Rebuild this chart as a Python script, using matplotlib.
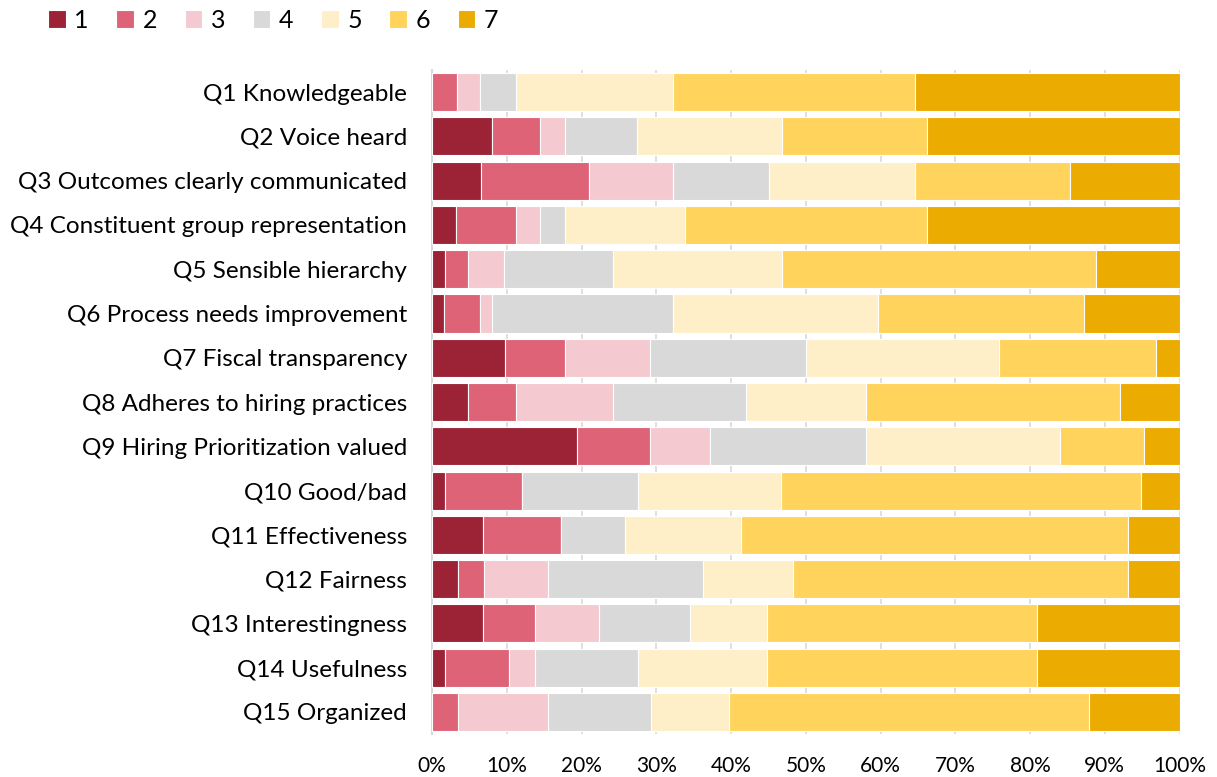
import matplotlib
matplotlib.use("Agg")
import matplotlib.pyplot as plt
import numpy as np

plt.rcParams['font.family'] = ['Lato', 'DejaVu Sans']

questions = [
    "Q1 Knowledgeable",
    "Q2 Voice heard",
    "Q3 Outcomes clearly communicated",
    "Q4 Constituent group representation",
    "Q5 Sensible hierarchy",
    "Q6 Process needs improvement",
    "Q7 Fiscal transparency",
    "Q8 Adheres to hiring practices",
    "Q9 Hiring Prioritization valued",
    "Q10 Good/bad",
    "Q11 Effectiveness",
    "Q12 Fairness",
    "Q13 Interestingness",
    "Q14 Usefulness",
    "Q15 Organized",
]

ratings = ["1", "2", "3", "4", "5", "6", "7"]

# percent of responses per rating, one list per rating (Q1..Q15)
r1 = [0.0, 8.0, 6.6, 3.2, 1.7, 1.6, 9.8, 4.8, 19.4, 1.7, 6.8, 3.5, 6.8, 1.7, 0.0]
r2 = [3.3, 6.4, 14.4, 8.0, 3.1, 4.8, 8.0, 6.4, 9.7, 10.3, 10.4, 3.4, 7.0, 8.6, 3.5]
r3 = [3.1, 3.4, 11.2, 3.2, 4.8, 1.6, 11.3, 13.0, 8.1, 0.0, 0.0, 8.6, 8.6, 3.5, 12.0]
r4 = [4.8, 9.6, 12.9, 3.4, 14.6, 24.2, 20.9, 17.8, 20.8, 15.5, 8.6, 20.7, 12.1, 13.8, 13.8]
r5 = [21.0, 19.4, 19.5, 16.0, 22.6, 27.5, 25.8, 16.0, 26.0, 19.2, 15.6, 12.1, 10.3, 17.2, 10.4]
r6 = [32.4, 19.4, 20.8, 32.4, 42.0, 27.5, 21.0, 34.0, 11.2, 48.1, 51.7, 44.8, 36.2, 36.2, 48.2]
r7 = [35.4, 33.8, 14.6, 33.8, 11.2, 12.8, 3.2, 8.0, 4.8, 5.2, 6.9, 6.9, 19.0, 19.0, 12.1]

colors = ["#9B2335", "#DE6377", "#F4CAD0", "#D9D9D9", "#FFEFC8", "#FFD35C", "#EBAB00"]

data = np.array([r1, r2, r3, r4, r5, r6, r7])
data = data / data.sum(axis=0) * 100

fig = plt.figure(figsize=(12.17, 7.77), dpi=100)
ax = fig.add_axes([0.355, 0.0553, 0.6142, 0.8546])

y = np.arange(len(questions))
left = np.zeros(len(questions))
for i in range(len(ratings)):
    ax.barh(y, data[i], left=left, height=0.86, color=colors[i],
            edgecolor="white", linewidth=0.8, label=ratings[i], zorder=3)
    left += data[i]

ax.set_ylim(len(questions) - 0.5, -0.5)
ax.set_xlim(0, 100)
ax.set_yticks(y)
ax.set_yticklabels(questions, fontsize=17.5)
ax.set_xticks(np.arange(0, 101, 10))
ax.set_xticklabels([f"{v}%" for v in range(0, 101, 10)], fontsize=15)
ax.tick_params(axis="y", length=0, pad=18)
ax.tick_params(axis="x", length=0, pad=16)
ax.xaxis.grid(True, color="#D9D9D9", linewidth=1.2, zorder=0)
for s in ["top", "right", "bottom"]:
    ax.spines[s].set_visible(False)
ax.spines["left"].set_color("#D9D9D9")
ax.spines["left"].set_linewidth(1.5)

fig.legend(loc="upper left", bbox_to_anchor=(0.021, 1.018), ncol=7, frameon=False,
           fontsize=18, handlelength=0.7, handleheight=0.7, handletextpad=0.35,
           columnspacing=1.1)

fig.savefig("out.png", dpi=100)
